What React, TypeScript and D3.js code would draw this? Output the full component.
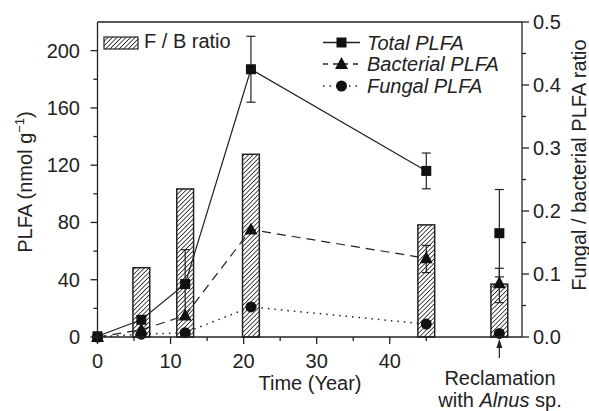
import React from "react";
import * as d3 from "d3";

const years = [0, 6, 12, 21, 45, 55];
const totalPLFA = [0.5, 12, 37, 187, 116, 72.5];
const totalErr = [0, 0, 24, 23, 12.5, 30.5];
const bacterialPLFA = [0, 5, 15, 75, 55, 37.5];
const bacterialErrLow = [0, 0, 0, 0, 10, 13.5];
const bacterialErrHigh = [0, 0, 0, 0, 9, 10.5];
const fungalPLFA = [0, 2, 3, 21, 9, 2.5];
const ratioYears = [6, 12, 21, 45, 55];
const ratioValues = [0.11, 0.235, 0.29, 0.178, 0.084];
const leftTicks = [0, 40, 80, 120, 160, 200];
const rightTicks = [0, 0.1, 0.2, 0.3, 0.4, 0.5];
const xTicks = [0, 10, 20, 30, 40];
const lineYearsCount = 5; // lines connect first five points

const W = 589, H = 411;
const M = { left: 97.5, right: 522, top: 22, bottom: 337 };
const FONT = "Liberation Sans, Arial, Helvetica, sans-serif";

export default function App() {
  const x = d3.scaleLinear().domain([0, 58.1]).range([M.left, M.right]);
  const yL = d3.scaleLinear().domain([0, 220]).range([M.bottom, M.top]);
  const yR = d3.scaleLinear().domain([0, 0.5]).range([M.bottom, M.top]);

  const line = d3.line<[number, number]>().x(d => x(d[0])).y(d => yL(d[1]));
  const pts = (vals: number[]) => years.slice(0, lineYearsCount).map((yr, i) => [yr, vals[i]] as [number, number]);

  const barW = x(2.3) - x(0);
  const minorLeft = d3.range(20, 220, 40);
  const minorRight = d3.range(0.05, 0.5, 0.1);
  const minorX = [5, 15, 25, 35, 45];

  const sq = (cx: number, cy: number, k: string) => <rect key={k} x={cx - 5} y={cy - 5} width={10} height={10} fill="#111" />;
  const tri = (cx: number, cy: number, k: string) => <path key={k} d={`M${cx},${cy - 7} L${cx + 6.5},${cy + 5} L${cx - 6.5},${cy + 5} Z`} fill="#111" />;
  const circ = (cx: number, cy: number, k: string) => <circle key={k} cx={cx} cy={cy} r={5.5} fill="#111" />;

  const errBar = (cx: number, lo: number, hi: number, k: string) => (
    <g key={k} stroke="#222" strokeWidth={1.2}>
      <line x1={cx} x2={cx} y1={yL(lo)} y2={yL(hi)} />
      <line x1={cx - 4.5} x2={cx + 4.5} y1={yL(lo)} y2={yL(lo)} />
      <line x1={cx - 4.5} x2={cx + 4.5} y1={yL(hi)} y2={yL(hi)} />
    </g>
  );

  return (
    <svg width={W} height={H} style={{ position: "absolute", left: 0, top: 0, background: "#fff" }} fontFamily={FONT}>
      <defs>
        <pattern id="hatch" patternUnits="userSpaceOnUse" width={3.2} height={3.2} patternTransform="rotate(45)">
          <rect width={3.2} height={3.2} fill="#fff" />
          <line x1={0} y1={0} x2={0} y2={3.2} stroke="#222" strokeWidth={1.6} />
        </pattern>
      </defs>
      <rect width={W} height={H} fill="#fff" />

      {/* bars */}
      {ratioYears.map((yr, i) => (
        <rect key={"b" + i} x={x(yr) - barW / 2} y={yR(ratioValues[i])} width={barW} height={M.bottom - yR(ratioValues[i])}
          fill="url(#hatch)" stroke="#222" strokeWidth={1.5} />
      ))}

      {/* lines */}
      <path d={line(pts(totalPLFA)) || ""} fill="none" stroke="#222" strokeWidth={1.2} />
      <path d={line(pts(bacterialPLFA)) || ""} fill="none" stroke="#222" strokeWidth={1.2} strokeDasharray="9,6" />
      <path d={line(pts(fungalPLFA)) || ""} fill="none" stroke="#222" strokeWidth={1.5} strokeDasharray="1.5,5" />

      {/* error bars */}
      {years.map((yr, i) => totalErr[i] > 0 ? errBar(x(yr), totalPLFA[i] - totalErr[i], totalPLFA[i] + totalErr[i], "te" + i) : null)}
      {years.map((yr, i) => bacterialErrHigh[i] > 0 ? errBar(x(yr), bacterialPLFA[i] - bacterialErrLow[i], bacterialPLFA[i] + bacterialErrHigh[i], "be" + i) : null)}

      {/* markers */}
      {years.map((yr, i) => circ(x(yr), yL(fungalPLFA[i]), "c" + i))}
      {years.map((yr, i) => tri(x(yr), yL(bacterialPLFA[i]), "t" + i))}
      {years.map((yr, i) => sq(x(yr), yL(totalPLFA[i]), "s" + i))}

      {/* frame */}
      <g stroke="#222" strokeWidth={1.3} fill="none">
        <line x1={M.left} x2={M.right} y1={M.top} y2={M.top} />
        <line x1={M.left} x2={M.right} y1={M.bottom} y2={M.bottom} />
        <line x1={M.left} x2={M.left} y1={M.top} y2={M.bottom} />
        <line x1={M.right} x2={M.right} y1={M.top} y2={M.bottom} />
        {leftTicks.map(t => <line key={"lt" + t} x1={M.left - 7} x2={M.left} y1={yL(t)} y2={yL(t)} />)}
        {minorLeft.map(t => <line key={"lm" + t} x1={M.left - 4} x2={M.left} y1={yL(t)} y2={yL(t)} />)}
        {rightTicks.map(t => <line key={"rt" + t} x1={M.right} x2={M.right + 7} y1={yR(t)} y2={yR(t)} />)}
        {minorRight.map(t => <line key={"rm" + t} x1={M.right} x2={M.right + 4} y1={yR(t)} y2={yR(t)} />)}
        {xTicks.map(t => <line key={"xt" + t} x1={x(t)} x2={x(t)} y1={M.bottom} y2={M.bottom + 7} />)}
        {minorX.map(t => <line key={"xm" + t} x1={x(t)} x2={x(t)} y1={M.bottom} y2={M.bottom + 4} />)}
      </g>

      {/* tick labels */}
      <g fontSize={20} fill="#222">
        {leftTicks.map(t => <text key={"ll" + t} x={80} y={yL(t)} dy="0.35em" textAnchor="end">{t}</text>)}
        {rightTicks.map(t => <text key={"rl" + t} x={533} y={yR(t)} dy="0.35em" textAnchor="start">{t.toFixed(1)}</text>)}
        {xTicks.map(t => <text key={"xl" + t} x={x(t)} y={368} textAnchor="middle">{t}</text>)}
      </g>

      {/* axis titles */}
      <text x={310} y={390} fontSize={20} textAnchor="middle" fill="#222">Time (Year)</text>
      <text transform="translate(32,182) rotate(-90)" fontSize={20} textAnchor="middle" fill="#222">
        PLFA (nmol g<tspan dy="-8" fontSize={13}>−1</tspan><tspan dy="8">)</tspan>
      </text>
      <text transform="translate(586,165) rotate(-90)" fontSize={20} textAnchor="middle" fill="#222">Fungal / bacterial PLFA ratio</text>

      {/* reclamation annotation */}
      <line x1={x(55)} x2={x(55)} y1={358} y2={345} stroke="#222" strokeWidth={1.2} />
      <path d={`M${x(55)},${339} L${x(55) + 3},${348} L${x(55) - 3},${348} Z`} fill="#222" />
      <text x={500} y={385} fontSize={20} textAnchor="middle" fill="#222">Reclamation</text>
      <text x={500} y={407} fontSize={20} textAnchor="middle" fill="#222">with <tspan fontStyle="italic">Alnus</tspan> sp.</text>

      {/* legend: bars */}
      <rect x={104} y={37} width={34} height={12} fill="url(#hatch)" stroke="#222" strokeWidth={1.2} />
      <text x={144} y={48} fontSize={20} fill="#222">F / B ratio</text>

      {/* legend: lines */}
      <g stroke="#222" strokeWidth={1.3}>
        <line x1={323} x2={360} y1={42.5} y2={42.5} />
        <line x1={323} x2={360} y1={64} y2={64} strokeDasharray="5,5" />
        <line x1={323} x2={360} y1={86} y2={86} strokeWidth={1.5} strokeDasharray="1.5,5" />
      </g>
      {sq(341.5, 42.5, "ls")}
      {tri(341.5, 64, "lt")}
      {circ(341.5, 86, "lc")}
      <g fontSize={20} fontStyle="italic" fill="#222">
        <text x={367} y={49.5}>Total PLFA</text>
        <text x={367} y={71}>Bacterial PLFA</text>
        <text x={367} y={93}>Fungal PLFA</text>
      </g>
    </svg>
  );
}
